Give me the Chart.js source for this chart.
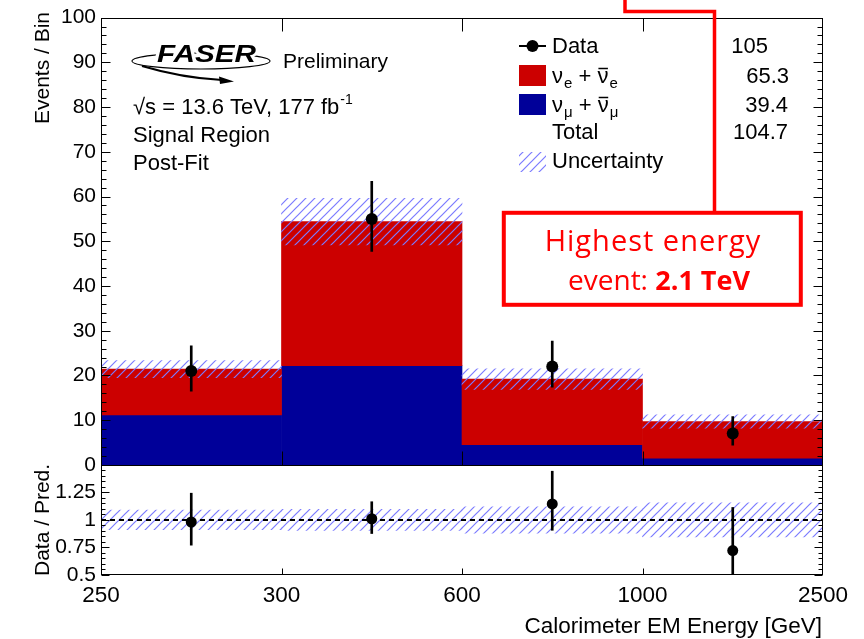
<!DOCTYPE html>
<html>
<head>
<meta charset="utf-8">
<script src="https://cdn.jsdelivr.net/npm/chart.js@4.4.0/dist/chart.umd.min.js"></script>
<style>
html,body{margin:0;padding:0;background:#fff;}
#wrap{width:864px;height:639px;position:relative;}
canvas{display:block;}
</style>
</head>
<body>
<div id="wrap"><canvas id="c" width="864" height="639"></canvas></div>
<script>
// ---------------- data ----------------
const binEdgeLabels = ['250', '300', '600', '1000', '2500'];
const binCenters = [0.5, 1.5, 2.5, 3.5];
const numuYield = [11.2, 22.2, 4.5, 1.5];      // nu_mu + anti-nu_mu (blue)
const nueYield = [10.2, 32.2, 14.7, 8.2];      // nu_e + anti-nu_e (red)
const predUncertainty = [1.9, 5.2, 2.3, 1.5];  // half-width of hatched band
const dataCounts = [21, 55, 22, 7];
const dataErrUp = [5.6, 8.4, 5.7, 3.8];
const dataErrDown = [4.5, 7.3, 4.6, 2.6];
const legendYields = ['105', '65.3', '39.4', '104.7'];

// ---------------- derived tables ----------------
const totalPred = numuYield.map((v, i) => v + nueYield[i]);
const ratioVals = dataCounts.map((d, i) => d / totalPred[i]);

const F = '"Liberation Sans", Arial, Helvetica, sans-serif';
Chart.defaults.font.family = F;
Chart.defaults.font.size = 21;
Chart.defaults.color = '#000';

function makeHatch(color, size, lw) {
  const c = document.createElement('canvas');
  c.width = size; c.height = size;
  const g = c.getContext('2d');
  g.strokeStyle = color; g.lineWidth = lw;
  g.beginPath();
  g.moveTo(0, size); g.lineTo(size, 0);
  g.moveTo(-2, 2); g.lineTo(2, -2);
  g.moveTo(size - 2, size + 2); g.lineTo(size + 2, size - 2);
  g.stroke();
  return g.createPattern(c, 'repeat');
}
const hatch = makeHatch('#7b7bff', 9, 1.2);

const barCommon = { grouped: false, barPercentage: 1, categoryPercentage: 1, borderWidth: 0 };

const datasets = [
  Object.assign({ type: 'bar', label: 'numu', yAxisID: 'y', order: 6,
    data: binCenters.map((x, i) => ({ x, y: [0, numuYield[i]] })),
    backgroundColor: '#000099' }, barCommon),
  Object.assign({ type: 'bar', label: 'nue', yAxisID: 'y', order: 5,
    data: binCenters.map((x, i) => ({ x, y: [numuYield[i], totalPred[i]] })),
    backgroundColor: '#cc0000' }, barCommon),
  Object.assign({ type: 'bar', label: 'Uncertainty', yAxisID: 'y', order: 4,
    data: binCenters.map((x, i) => ({ x, y: [totalPred[i] - predUncertainty[i], totalPred[i] + predUncertainty[i]] })),
    backgroundColor: hatch }, barCommon),
  Object.assign({ type: 'bar', label: 'dataErr', yAxisID: 'y', order: 2,
    data: binCenters.map((x, i) => ({ x, y: [dataCounts[i] - dataErrDown[i], dataCounts[i] + dataErrUp[i]] })),
    backgroundColor: '#000' }, barCommon, { barThickness: 2 }),
  { type: 'line', label: 'Data', yAxisID: 'y', order: 1, showLine: false,
    data: binCenters.map((x, i) => ({ x, y: dataCounts[i] })),
    pointRadius: 6, pointBackgroundColor: '#000', pointBorderWidth: 0 },

  Object.assign({ type: 'bar', label: 'ratioUnc', yAxisID: 'yr', order: 4,
    data: binCenters.map((x, i) => ({ x, y: [1 - predUncertainty[i] / totalPred[i], 1 + predUncertainty[i] / totalPred[i]] })),
    backgroundColor: hatch }, barCommon),
  { type: 'line', label: 'unity', yAxisID: 'yr', order: 3,
    data: [{ x: 0, y: 1 }, { x: 4, y: 1 }],
    borderColor: '#000', borderWidth: 2, borderDash: [5, 4], pointRadius: 0 },
  Object.assign({ type: 'bar', label: 'ratioErr', yAxisID: 'yr', order: 2,
    data: binCenters.map((x, i) => ({ x, y: [(dataCounts[i] - dataErrDown[i]) / totalPred[i], (dataCounts[i] + dataErrUp[i]) / totalPred[i]] })),
    backgroundColor: '#000' }, barCommon, { barThickness: 2 }),
  { type: 'line', label: 'ratio', yAxisID: 'yr', order: 1, showLine: false,
    data: binCenters.map((x, i) => ({ x, y: ratioVals[i] })),
    pointRadius: 5.5, pointBackgroundColor: '#000', pointBorderWidth: 0 }
];

// ---------------- decorations ----------------
function txt(ctx, s, x, y, font, align, color) {
  ctx.font = font; ctx.textAlign = align || 'left'; ctx.textBaseline = 'alphabetic';
  ctx.fillStyle = color || '#000'; ctx.fillText(s, x, y);
  return ctx.measureText(s).width;
}
function seg(ctx, x1, y1, x2, y2) { ctx.beginPath(); ctx.moveTo(x1, y1); ctx.lineTo(x2, y2); ctx.stroke(); }

function nuLabel(ctx, x, y, sub) {
  const big = '22px ' + F, small = '15px ' + F;
  let cx = x;
  cx += txt(ctx, '\u03BD', cx, y, big);
  cx += txt(ctx, sub, cx + 1, y + 5, small) + 1;
  cx += txt(ctx, ' + ', cx, y, big);
  ctx.font = big; const wn = ctx.measureText('\u03BD').width;
  ctx.strokeStyle = '#000'; ctx.lineWidth = 1.5;
  seg(ctx, cx + 1, y - 14.5, cx + wn - 0.5, y - 14.5);
  cx += txt(ctx, '\u03BD', cx, y, big);
  txt(ctx, sub, cx + 1, y + 5, small);
}

const decor = {
  id: 'decor',
  afterDraw(chart) {
    const ctx = chart.ctx;
    const ys = chart.scales.y, yr = chart.scales.yr, xs = chart.scales.x;
    const L = Math.round(xs.left) + 0.5, R = Math.round(xs.right) - 0.5;
    const mTop = Math.round(ys.top) + 0.5, mBot = Math.round(ys.bottom) + 0.5;
    const rTop = Math.round(yr.top) + 0.5, rBot = Math.round(yr.bottom) - 0.5;
    ctx.save();
    ctx.strokeStyle = '#000'; ctx.lineWidth = 1;
    ctx.strokeRect(L, mTop, R - L, mBot - mTop);
    ctx.strokeRect(L, rTop, R - L, rBot - rTop);

    // y ticks main: major 10, minor 2
    for (let k = 0; k <= 50; k++) {
      const v = k * 2; const p = Math.round(ys.getPixelForValue(v)) + 0.5;
      const len = (k % 5 === 0) ? 9 : 5;
      seg(ctx, L, p, L + len, p); seg(ctx, R, p, R - len, p);
    }
    // y ticks ratio: major 0.25, minor 0.05
    for (let k = 0; k <= 20; k++) {
      const v = 0.5 + k * 0.05; const p = Math.round(yr.getPixelForValue(v)) + 0.5;
      const len = (k % 5 === 0) ? 8 : 4;
      seg(ctx, L, p, L + len, p); seg(ctx, R, p, R - len, p);
    }
    // x ticks at bin edges
    for (let e = 1; e <= 3; e++) {
      const p = Math.round(xs.getPixelForValue(e)) + 0.5;
      seg(ctx, p, mBot, p, mBot - 14);
      seg(ctx, p, mTop, p, mTop + 13);
      seg(ctx, p, rBot, p, rBot - 6);
    }

    // axis titles
    ctx.save(); ctx.translate(49, 12); ctx.rotate(-Math.PI / 2);
    txt(ctx, 'Events / Bin', 0, 0, '21px ' + F, 'right'); ctx.restore();
    ctx.save(); ctx.translate(49, (yr.top + yr.bottom) / 2); ctx.rotate(-Math.PI / 2);
    txt(ctx, 'Data / Pred.', 0, 0, '21px ' + F, 'center'); ctx.restore();
    txt(ctx, 'Calorimeter EM Energy [GeV]', 822, 633, '22.5px ' + F, 'right');

    // FASER logo
    ctx.save();
    ctx.textAlign = 'left'; ctx.textBaseline = 'alphabetic';
    ctx.strokeStyle = '#000'; ctx.fillStyle = '#000'; ctx.lineWidth = 1.1;
    ctx.beginPath(); ctx.ellipse(201, 61, 69, 8, 0, 0, Math.PI * 2); ctx.stroke();
    ctx.lineWidth = 2;
    ctx.beginPath(); ctx.moveTo(142, 66); ctx.quadraticCurveTo(182, 78, 222, 80); ctx.stroke();
    ctx.beginPath(); ctx.moveTo(234, 81.5); ctx.lineTo(219, 76.5); ctx.lineTo(220, 84); ctx.closePath(); ctx.fill();
    ctx.font = 'italic bold 23px ' + F;
    const wf = ctx.measureText('FASER').width;
    ctx.translate(157, 62); ctx.scale(99 / wf, 1);
    ctx.lineWidth = 5; ctx.strokeStyle = '#fff'; ctx.lineJoin = 'round';
    ctx.strokeText('FASER', 0, 0); ctx.fillText('FASER', 0, 0);
    ctx.restore();

    txt(ctx, 'Preliminary', 283, 68, '21px ' + F);
    let cx = 133;
    cx += txt(ctx, '\u221As = 13.6 TeV, 177 fb', cx, 114, '22px ' + F);
    txt(ctx, '-1', cx + 1, 104, '14px ' + F);
    txt(ctx, 'Signal Region', 133, 142, '22px ' + F);
    txt(ctx, 'Post-Fit', 133, 170, '22px ' + F);

    // legend
    ctx.strokeStyle = '#000'; ctx.lineWidth = 2;
    seg(ctx, 519, 46, 546, 46);
    ctx.fillStyle = '#000'; ctx.beginPath(); ctx.arc(532.5, 46, 6, 0, Math.PI * 2); ctx.fill();
    txt(ctx, 'Data', 552, 53, '22px ' + F);
    ctx.fillStyle = '#cc0000'; ctx.fillRect(519, 65, 27, 21);
    nuLabel(ctx, 552, 83, 'e');
    ctx.fillStyle = '#000099'; ctx.fillRect(519, 94, 27, 21);
    nuLabel(ctx, 552, 112, '\u03BC');
    txt(ctx, 'Total', 552, 139, '22px ' + F);
    ctx.fillStyle = hatch; ctx.fillRect(519, 152, 27, 20);
    txt(ctx, 'Uncertainty', 552, 168, '22px ' + F);
    txt(ctx, legendYields[0], 768, 53, '22px ' + F, 'right');
    txt(ctx, legendYields[1], 789, 83, '22px ' + F, 'right');
    txt(ctx, legendYields[2], 788, 112, '22px ' + F, 'right');
    txt(ctx, legendYields[3], 788, 139, '22px ' + F, 'right');

    // annotation
    ctx.strokeStyle = '#ff0000'; ctx.lineWidth = 3.5; ctx.lineJoin = 'miter';
    ctx.beginPath(); ctx.moveTo(625, 0); ctx.lineTo(625, 11.5); ctx.lineTo(714.5, 11.5); ctx.lineTo(714.5, 211); ctx.stroke();
    ctx.lineWidth = 4;
    ctx.strokeRect(503.8, 212.8, 297, 92);
    const AF = '"Open Sans", "Noto Sans", sans-serif';
    ctx.letterSpacing = '1px';
    txt(ctx, 'Highest energy', 653, 251, '29px ' + AF, 'center', '#ff0000');
    ctx.letterSpacing = '0px';
    ctx.font = '28px ' + AF; const w1 = ctx.measureText('event: ').width;
    ctx.font = 'bold 27px ' + AF; const w2 = ctx.measureText('2.1 TeV').width;
    const sx = 659 - (w1 + w2) / 2;
    txt(ctx, 'event: ', sx, 290, '28px ' + AF, 'left', '#ff0000');
    txt(ctx, '2.1 TeV', sx + w1, 290, 'bold 27px ' + AF, 'left', '#ff0000');
    ctx.restore();
  }
};

new Chart(document.getElementById('c'), {
  type: 'bar',
  data: { datasets },
  options: {
    responsive: false, animation: false, devicePixelRatio: 1,
    layout: { padding: { top: 13, right: 41, left: 0, bottom: 0 } },
    plugins: { legend: { display: false }, tooltip: { enabled: false } },
    scales: {
      x: {
        type: 'linear', min: 0, max: 4, offset: false,
        grid: { display: false, drawTicks: false }, border: { display: false },
        ticks: { stepSize: 1, autoSkip: false, maxRotation: 0, padding: 7, font: { size: 22.5 },
          callback: (v) => binEdgeLabels[v] !== undefined ? binEdgeLabels[v] : '' },
        afterFit: (s) => { s.height = 64; }
      },
      yr: {
        type: 'linear', position: 'left', stack: 'panels', stackWeight: 111,
        min: 0.5, max: 1.5,
        grid: { display: false, drawTicks: false }, border: { display: false },
        ticks: { stepSize: 0.25, padding: 5, autoSkip: false,
          callback: (v) => v > 1.4 ? '' : String(+v.toFixed(2)) },
        afterFit: (s) => { s.width = 101; }
      },
      y: {
        type: 'linear', position: 'left', stack: 'panels', stackWeight: 451,
        min: 0, max: 100,
        grid: { display: false, drawTicks: false }, border: { display: false },
        ticks: { stepSize: 10, padding: 5, autoSkip: false },
        afterFit: (s) => { s.width = 101; }
      }
    }
  },
  plugins: [decor]
});
</script>
</body>
</html>
